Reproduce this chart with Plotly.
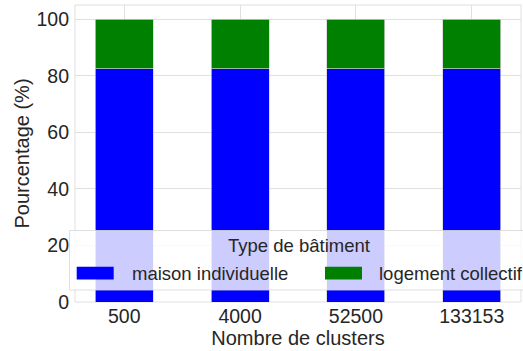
import plotly.graph_objects as go

categories = ["500", "4000", "52500", "133153"]
maison = [82.5, 82.5, 82.5, 82.5]
collectif = [17.5, 17.5, 17.5, 17.5]
series_names = ["maison individuelle", "logement collectif"]
colors = ["#0000ff", "#008000"]
y_ticks = [0, 20, 40, 60, 80, 100]
legend_title = "Type de bâtiment"

text_color = "#262626"
font_family = "Liberation Sans, Arial, sans-serif"

# plot area geometry in pixels (for converting legend layout to paper coords)
W, H = 523, 351
L, R, T, B = 75, 2, 5, 49
PW, PH = W - L - R, H - T - B


def px(xp):
    return (xp - L) / PW


def py(yp):
    return (H - B - yp) / PH


fig = go.Figure()
for name, vals, col in zip(series_names, [maison, collectif], colors):
    fig.add_trace(go.Bar(
        x=list(range(len(categories))), y=vals, name=name,
        marker=dict(color=col, line=dict(color="rgba(210,210,210,0.9)", width=0.8)),
        width=0.5, showlegend=False,
    ))

shapes = [
    # axes frame
    dict(type="rect", xref="paper", yref="paper", x0=0, x1=1, y0=0, y1=1,
         line=dict(color="#e0e0e0", width=1), layer="below"),
    # legend box
    dict(type="rect", xref="paper", yref="paper",
         x0=px(69.5), x1=px(530), y0=py(290), y1=py(230.5),
         fillcolor="rgba(255,255,255,0.8)", line=dict(color="rgba(215,215,215,0.8)", width=1),
         layer="above"),
]
annotations = [
    dict(text=legend_title, xref="paper", yref="paper", x=px(299), y=py(245),
         xanchor="center", yanchor="middle", showarrow=False,
         font=dict(size=18.5, color=text_color)),
]
patch_x = [76.7, 325]
label_x = [129.5, 376.7]
for name, col, x0, lx in zip(series_names, colors, patch_x, label_x):
    shapes.append(dict(type="rect", xref="paper", yref="paper",
                       x0=px(x0), x1=px(x0 + 37), y0=py(279.5), y1=py(266.7),
                       fillcolor=col, line=dict(width=0), layer="above"))
    annotations.append(dict(text=name, xref="paper", yref="paper", x=px(lx), y=py(273),
                            xanchor="left", yanchor="middle", showarrow=False,
                            font=dict(size=18.5, color=text_color)))

fig.update_layout(
    barmode="stack",
    width=W, height=H,
    margin=dict(l=L, r=R, t=T, b=B),
    paper_bgcolor="white", plot_bgcolor="white",
    font=dict(family=font_family, color=text_color, size=19),
    xaxis=dict(
        range=[-0.425, 3.425],
        tickmode="array", tickvals=list(range(len(categories))), ticktext=categories,
        showgrid=True, gridcolor="#e0e0e0", gridwidth=1,
        showline=False, zeroline=False, ticks="",
        tickfont=dict(size=19.5),
        title=dict(text="Nombre de clusters", font=dict(size=20), standoff=2),
        automargin=False,
    ),
    yaxis=dict(
        range=[0, 105],
        tickmode="array", tickvals=y_ticks,
        showgrid=True, gridcolor="#e0e0e0", gridwidth=1,
        showline=False, zeroline=False, ticks="",
        tickfont=dict(size=19.5),
        ticklabelstandoff=5,
        title=dict(text="Pourcentage (%)", font=dict(size=20), standoff=1),
        automargin=False,
    ),
    showlegend=False,
    shapes=shapes,
    annotations=annotations,
)

fig.write_html("out.html", config={"displayModeBar": False},
               post_script="document.body.style.margin='0';")
